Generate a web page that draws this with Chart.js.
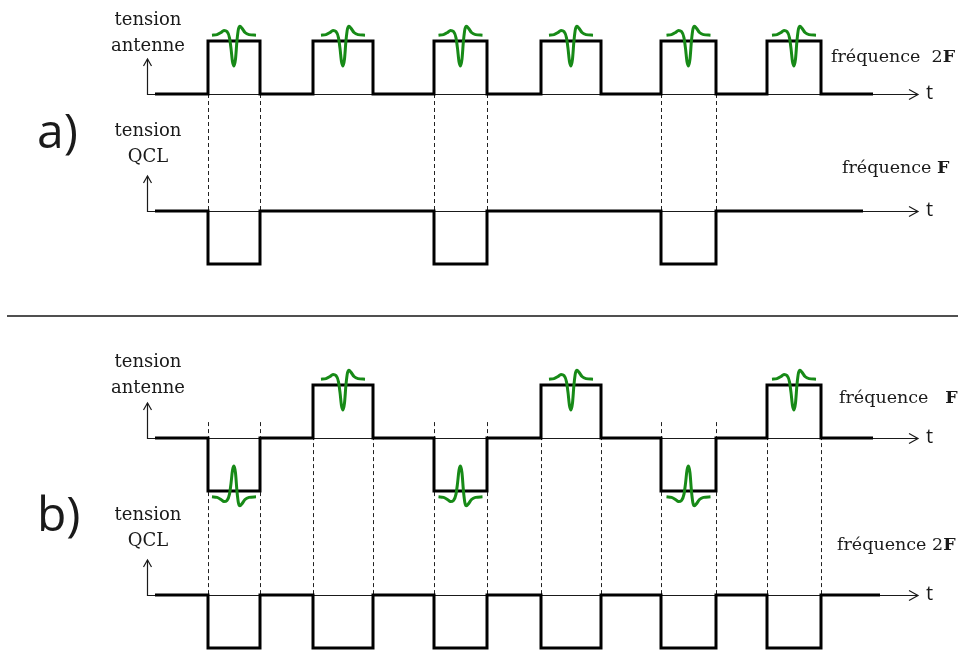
<!DOCTYPE html>
<html><head><meta charset="utf-8">
<script src="https://cdn.jsdelivr.net/npm/chart.js@4.4.1/dist/chart.umd.min.js"></script>
<style>html,body{margin:0;padding:0;background:#fff;}#wrap{width:960px;height:650px;position:relative;}</style>
</head><body><div id="wrap"><canvas id="c" width="960" height="650"></canvas></div>
<script>
// ---- data (time in arbitrary units, t = 0 at the vertical axis; levels: +1 high, -1 low, 0 none)
const pulseStart = [61, 166, 287, 394, 514, 620];
const pulseEnd   = [113, 226, 340, 454, 569, 674];
const antenneA = [1, 1, 1, 1, 1, 1];
const qclA     = [-1, 0, -1, 0, -1, 0];
const antenneB = [-1, 1, -1, 1, -1, 1];
const qclB     = [-1, -1, -1, -1, -1, -1];
const traceStart = [8, 8, 8, 8];
const traceEnd   = [726, 716, 726, 733];
const axisEnd = 771;
// THz pulse shape (relative time, relative amplitude)
const waveT = [-22, -17, -13, -10, -7, -4.5, -3, -1.5, 0, 1.5, 3, 4.5, 6, 8, 11, 15, 22];
const waveV = [0, 0.01, 0.05, 0.09, 0.07, -0.05, -0.25, -0.5, -0.58, -0.45, -0.1, 0.12, 0.17, 0.13, 0.05, 0.01, 0];
const waveOffset = 0.11;
// texts
const axisTitles = [["tension", "antenne"], ["tension", "QCL"], ["tension", "antenne"], ["tension", "QCL"]];
const freqText = ["fréquence  2", "fréquence ", "fréquence   ", "fréquence 2"];
const freqBold = ["F", "F", "F", "F"];
const panelLabels = ["a)", "b)"];
const axisName = "t";

// ---- layout (pixels)
const unitPx = 53;
const baselines = { yA1: 94, yA2: 211, yB1: 438, yB2: 595 };
const titlePos = [[25, 51], [136, 162], [367, 393], [520, 546]];
const freqPos = [[831, 62], [842, 173], [839, 403], [837, 550]];
const panelPos = [[37, 148], [37, 531]];

const traces = [
  { levels: antenneA, axis: 'yA1', wave: true },
  { levels: qclA, axis: 'yA2', wave: false },
  { levels: antenneB, axis: 'yB1', wave: true },
  { levels: qclB, axis: 'yB2', wave: false }
];

const datasets = [];
traces.forEach((tr, k) => {
  const pts = [{ x: traceStart[k], y: 0 }];
  tr.levels.forEach((l, i) => {
    if (l !== 0) {
      pts.push({ x: pulseStart[i], y: 0 }, { x: pulseStart[i], y: l }, { x: pulseEnd[i], y: l }, { x: pulseEnd[i], y: 0 });
    }
  });
  pts.push({ x: traceEnd[k], y: 0 });
  datasets.push({ data: pts, yAxisID: tr.axis, showLine: true, borderColor: '#000', borderWidth: 3,
    pointRadius: 0, clip: false, tension: 0, borderJoinStyle: 'miter', order: 2 });
});
traces.forEach(tr => {
  if (!tr.wave) return;
  tr.levels.forEach((l, i) => {
    if (l === 0) return;
    const mid = (pulseStart[i] + pulseEnd[i]) / 2;
    const pts = waveT.map((t, j) => ({ x: mid + t, y: l * (1 + waveOffset + waveV[j]) }));
    datasets.push({ data: pts, yAxisID: tr.axis, showLine: true, borderColor: '#178a17', borderWidth: 3,
      pointRadius: 0, clip: false, cubicInterpolationMode: 'monotone', order: 1 });
  });
});

const scales = { x: { type: 'linear', display: false, min: -147, max: 813 } };
Object.keys(baselines).forEach(id => {
  const b = baselines[id];
  scales[id] = { type: 'linear', display: false, min: -(650 - b) / unitPx, max: b / unitPx };
});

const deco = {
  id: 'deco',
  beforeDatasetsDraw(chart) {
    const ctx = chart.ctx, xs = chart.scales.x;
    ctx.save();
    ctx.strokeStyle = '#505050'; ctx.lineWidth = 2;
    ctx.beginPath(); ctx.moveTo(7, 316); ctx.lineTo(958, 316); ctx.stroke();
    const x0 = Math.round(xs.getPixelForValue(0)) + 0.5;
    const xEnd = xs.getPixelForValue(axisEnd);
    traces.forEach(tr => {
      const ys = chart.scales[tr.axis];
      const y0 = Math.round(ys.getPixelForValue(0)) + 0.5;
      const yTop = ys.getPixelForValue(0.66);
      ctx.strokeStyle = '#1a1a1a'; ctx.lineWidth = 1.2;
      ctx.beginPath(); ctx.moveTo(x0, yTop); ctx.lineTo(x0, y0); ctx.lineTo(xEnd, y0); ctx.stroke();
      ctx.beginPath(); ctx.moveTo(x0 - 4, yTop + 7); ctx.lineTo(x0, yTop); ctx.lineTo(x0 + 4, yTop + 7); ctx.stroke();
      ctx.beginPath(); ctx.moveTo(xEnd - 9, y0 - 5); ctx.lineTo(xEnd, y0); ctx.lineTo(xEnd - 9, y0 + 5); ctx.stroke();
    });
    // dashed guides between antenna and QCL traces
    ctx.setLineDash([4, 3]); ctx.lineWidth = 1; ctx.strokeStyle = '#222';
    [[traces[0], traces[1], 0], [traces[2], traces[3], 0.3]].forEach(([ta, tq, from]) => {
      const ya = chart.scales[ta.axis].getPixelForValue(from);
      const yq = chart.scales[tq.axis].getPixelForValue(0);
      tq.levels.forEach((l, i) => {
        if (l === 0) return;
        [pulseStart[i], pulseEnd[i]].forEach(t => {
          const px = Math.round(xs.getPixelForValue(t)) + 0.5;
          ctx.beginPath(); ctx.moveTo(px, ya); ctx.lineTo(px, yq); ctx.stroke();
        });
      });
    });
    ctx.restore();
  },
  afterDatasetsDraw(chart) {
    const ctx = chart.ctx, xs = chart.scales.x;
    ctx.save();
    ctx.fillStyle = '#1a1a1a';
    const x0 = xs.getPixelForValue(0);
    const xEnd = xs.getPixelForValue(axisEnd);
    ctx.font = '18px "DejaVu Serif"';
    ctx.textAlign = 'center'; ctx.textBaseline = 'alphabetic';
    axisTitles.forEach((lines, k) => {
      lines.forEach((s, j) => ctx.fillText(s, x0 + 1, titlePos[k][j]));
    });
    ctx.textAlign = 'left';
    freqText.forEach((s, k) => {
      ctx.font = '17.5px "DejaVu Serif"';
      ctx.fillText(s, freqPos[k][0], freqPos[k][1]);
      const w = ctx.measureText(s).width;
      ctx.font = 'bold 17.5px "DejaVu Serif"';
      ctx.fillText(freqBold[k], freqPos[k][0] + w, freqPos[k][1]);
    });
    ctx.font = '20px "Open Sans"';
    traces.forEach(tr => {
      const y0 = chart.scales[tr.axis].getPixelForValue(0);
      ctx.fillText(axisName, xEnd + 8, y0 + 5);
    });
    ctx.font = '48px "Open Sans"';
    panelLabels.forEach((s, k) => ctx.fillText(s, panelPos[k][0], panelPos[k][1]));
    ctx.restore();
  }
};

new Chart(document.getElementById('c'), {
  type: 'scatter',
  data: { datasets },
  options: {
    responsive: false, animation: false, devicePixelRatio: 1,
    layout: { padding: 0 },
    plugins: { legend: { display: false }, tooltip: { enabled: false } },
    scales,
    events: []
  },
  plugins: [deco]
});
</script></body></html>
